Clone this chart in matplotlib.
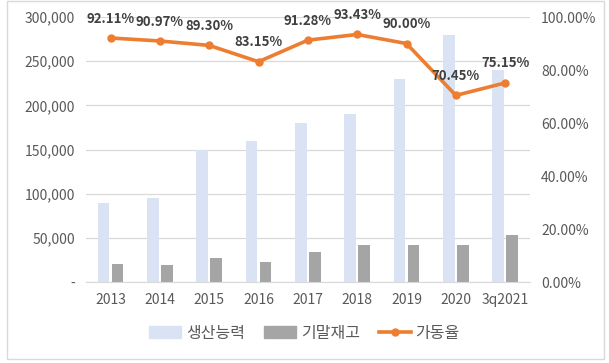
import matplotlib.pyplot as plt
import numpy as np
from matplotlib.patches import Rectangle
from matplotlib.lines import Line2D
from matplotlib.ticker import FuncFormatter

plt.rcParams['font.family'] = ['Noto Sans CJK KR', 'DejaVu Sans']

# 데이터
years = ['2013', '2014', '2015', '2016', '2017', '2018', '2019', '2020', '3q2021']
capacity = [90000, 95000, 150000, 160000, 180000, 190000, 230000, 280000, 240000]
inventory = [20500, 19500, 27500, 22800, 34500, 41500, 41500, 41500, 52800]
utilization = [92.11, 90.97, 89.30, 83.15, 91.28, 93.43, 90.00, 70.45, 75.15]

c_blue = '#dae3f3'
c_gray = '#a5a5a5'
c_orange = '#ed7d31'
c_text = '#595959'

fig = plt.figure(figsize=(6.09, 3.63), dpi=100)
ax = fig.add_axes([0.141, 0.223, 0.729, 0.730])
x = np.arange(len(years))

ax.bar(x - 0.14, capacity, width=0.235, color=c_blue, zorder=2)
ax.bar(x + 0.14, inventory, width=0.235, color=c_gray, zorder=2)

ax.set_ylim(0, 300000)
ax.set_yticks(np.arange(0, 300001, 50000))
ax.yaxis.set_major_formatter(FuncFormatter(lambda v, p: '-' if v == 0 else f'{int(v):,}'))
ax.set_xlim(-0.5, len(years) - 0.5)
ax.set_xticks(x)
ax.set_xticklabels(years)
ax.grid(axis='y', color='#d9d9d9', linewidth=0.9, zorder=0)
for s in ['top', 'left', 'right']:
    ax.spines[s].set_visible(False)
ax.spines['bottom'].set_color('#d9d9d9')
ax.tick_params(axis='both', length=0, colors=c_text, labelsize=10)
ax.tick_params(axis='x', pad=8)
ax.tick_params(axis='y', pad=8)

ax2 = ax.twinx()
ax2.plot(x, utilization, color=c_orange, linewidth=2.6, marker='o', markersize=5, zorder=3)
ax2.set_ylim(0, 100)
ax2.set_yticks(np.arange(0, 101, 20))
ax2.yaxis.set_major_formatter(FuncFormatter(lambda v, p: f'{v:.2f}%'))
for s in ax2.spines.values():
    s.set_visible(False)
ax2.tick_params(axis='y', length=0, colors=c_text, labelsize=10, pad=8)

for xi, v in zip(x, utilization):
    ax2.annotate(f'{v:.2f}%', (xi, v), xytext=(0, 14), textcoords='offset points',
                 ha='center', va='center', fontsize=9.5, fontweight='bold', color='#404040')

handles = [Rectangle((0, 0), 1, 1, color=c_blue),
           Rectangle((0, 0), 1, 1, color=c_gray),
           Line2D([0], [0], color=c_orange, linewidth=2.6, marker='o', markersize=5)]
fig.legend(handles, ['생산능력', '기말재고', '가동율'], loc='center', bbox_to_anchor=(0.5, 0.082),
           ncol=3, frameon=False, fontsize=11.5, labelcolor=c_text, handlelength=2.0,
           handleheight=0.8, columnspacing=1.2, handletextpad=0.3)

# 차트 테두리
fig.patches.append(Rectangle((0.012, 0.012), 0.98, 0.985, transform=fig.transFigure,
                             fill=False, edgecolor='#d9d9d9', linewidth=1))

fig.savefig('out.png', dpi=100)
